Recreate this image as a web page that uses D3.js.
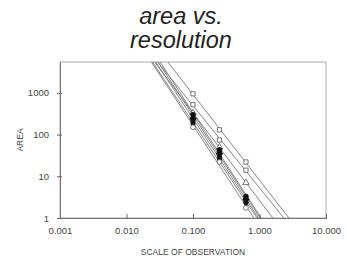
<!DOCTYPE html>
<html>
<head>
<meta charset="utf-8">
<script src="https://cdn.jsdelivr.net/npm/d3@7"></script>
<style>
  body { margin: 0; background: #fff; }
  svg { display: block; }
</style>
</head>
<body>
<div id="chart"></div>
<script>
// area vs. resolution - log/log plot with fitted lines

const scales = [0.1, 0.25, 0.625];
const seriesNames = ['sqA', 'sqB', 'triOpen', 'dotA', 'triFill', 'sqFill', 'dotB', 'circOpen'];
const sqA = [950, 130, 22];
const sqB = [520, 74, 14];
const triOpen = [330, 50, 7];
const dotA = [300, 43, 3.3];
const triFill = [260, 38, 3.0];
const sqFill = [220, 32, 2.6];
const dotB = [180, 26, 2.3];
const circOpen = [150, 22, 1.75];
const seriesValues = [sqA, sqB, triOpen, dotA, triFill, sqFill, dotB, circOpen];
const xTicks = [0.001, 0.01, 0.1, 1, 10];
const yTicks = [1, 10, 100, 1000];

const W = 347, H = 262;
const plotL = 60, plotR = 326, plotT = 62, plotB = 218;

const svg = d3.select('#chart').append('svg')
  .attr('width', W).attr('height', H);

const x = d3.scaleLog().domain([0.001, 10]).range([plotL, plotR]);
const y = d3.scaleLog().domain([1, 5500]).range([plotB, plotT]);

// title
svg.append('text')
  .attr('x', 181).attr('y', 24)
  .attr('text-anchor', 'middle')
  .attr('font-family', 'Liberation Sans, Arial, sans-serif')
  .attr('font-style', 'italic')
  .attr('font-size', 23.5)
  .attr('fill', '#222')
  .text('area vs.');
svg.append('text')
  .attr('x', 181).attr('y', 48)
  .attr('text-anchor', 'middle')
  .attr('font-family', 'Liberation Sans, Arial, sans-serif')
  .attr('font-style', 'italic')
  .attr('font-size', 23.5)
  .attr('fill', '#222')
  .text('resolution');

// frame
svg.append('rect')
  .attr('x', plotL).attr('y', plotT)
  .attr('width', plotR - plotL).attr('height', plotB - plotT)
  .attr('fill', 'none').attr('stroke', '#aaa').attr('stroke-width', 1);

svg.append('clipPath').attr('id', 'plot')
  .append('rect')
  .attr('x', plotL).attr('y', plotT)
  .attr('width', plotR - plotL).attr('height', plotB - plotT);

// fitted lines (least squares in log-log)
const lines = svg.append('g').attr('clip-path', 'url(#plot)');
seriesValues.forEach(vals => {
  const lx = scales.map(Math.log10), ly = vals.map(Math.log10);
  const mx = d3.mean(lx), my = d3.mean(ly);
  const slope = d3.sum(lx, (v, i) => (v - mx) * (ly[i] - my)) / d3.sum(lx, v => (v - mx) * (v - mx));
  const icpt = my - slope * mx;
  const f = s => Math.pow(10, icpt + slope * Math.log10(s));
  lines.append('line')
    .attr('x1', x(0.001)).attr('y1', y(f(0.001)))
    .attr('x2', x(10)).attr('y2', y(f(10)))
    .attr('stroke', '#777').attr('stroke-width', 0.9);
});

// markers
const symbols = {
  sqA: [d3.symbolSquare, false], sqB: [d3.symbolSquare, false],
  triOpen: [d3.symbolTriangle, false], dotA: [d3.symbolCircle, true],
  triFill: [d3.symbolTriangle, true], sqFill: [d3.symbolSquare, true],
  dotB: [d3.symbolDiamond, true], circOpen: [d3.symbolCircle, false]
};
const marks = svg.append('g');
seriesValues.forEach((vals, si) => {
  const [type, filled] = symbols[seriesNames[si]];
  vals.forEach((v, i) => {
    marks.append('path')
      .attr('d', d3.symbol().type(type).size(18)())
      .attr('transform', `translate(${x(scales[i])},${y(v)})`)
      .attr('fill', filled ? '#111' : '#fff')
      .attr('stroke', filled ? '#111' : '#555')
      .attr('stroke-width', 0.8);
  });
});

// axes
const xAxis = svg.append('g')
  .attr('transform', `translate(0,${plotB})`)
  .call(d3.axisBottom(x).tickValues(xTicks).tickFormat(d3.format('.3f')).tickSize(0).tickPadding(9));
xAxis.select('.domain').attr('stroke', '#777');
xAxis.selectAll('.tick').append('line').attr('y1', -4).attr('y2', 1).attr('stroke', '#666');

const yAxis = svg.append('g')
  .attr('transform', `translate(${plotL},0)`)
  .call(d3.axisLeft(y).tickValues(yTicks).tickFormat(d3.format('d')).tickSize(0).tickPadding(11));
yAxis.select('.domain').attr('stroke', '#777');
yAxis.selectAll('.tick').append('line').attr('x1', -3).attr('x2', 2).attr('stroke', '#666');

svg.selectAll('.tick text')
  .attr('font-family', 'Liberation Sans, Arial, sans-serif')
  .attr('font-size', 9.5)
  .attr('fill', '#444');

// axis titles
svg.append('text')
  .attr('transform', `translate(23,${(plotT + plotB) / 2}) rotate(-90)`)
  .attr('text-anchor', 'middle')
  .attr('font-family', 'Liberation Sans, Arial, sans-serif')
  .attr('font-size', 8.5)
  .attr('fill', '#444')
  .text('AREA');
svg.append('text')
  .attr('x', (plotL + plotR) / 2).attr('y', 255)
  .attr('text-anchor', 'middle')
  .attr('font-family', 'Liberation Sans, Arial, sans-serif')
  .attr('font-size', 8.5)
  .attr('fill', '#444')
  .text('SCALE OF OBSERVATION');
</script>
</body>
</html>
